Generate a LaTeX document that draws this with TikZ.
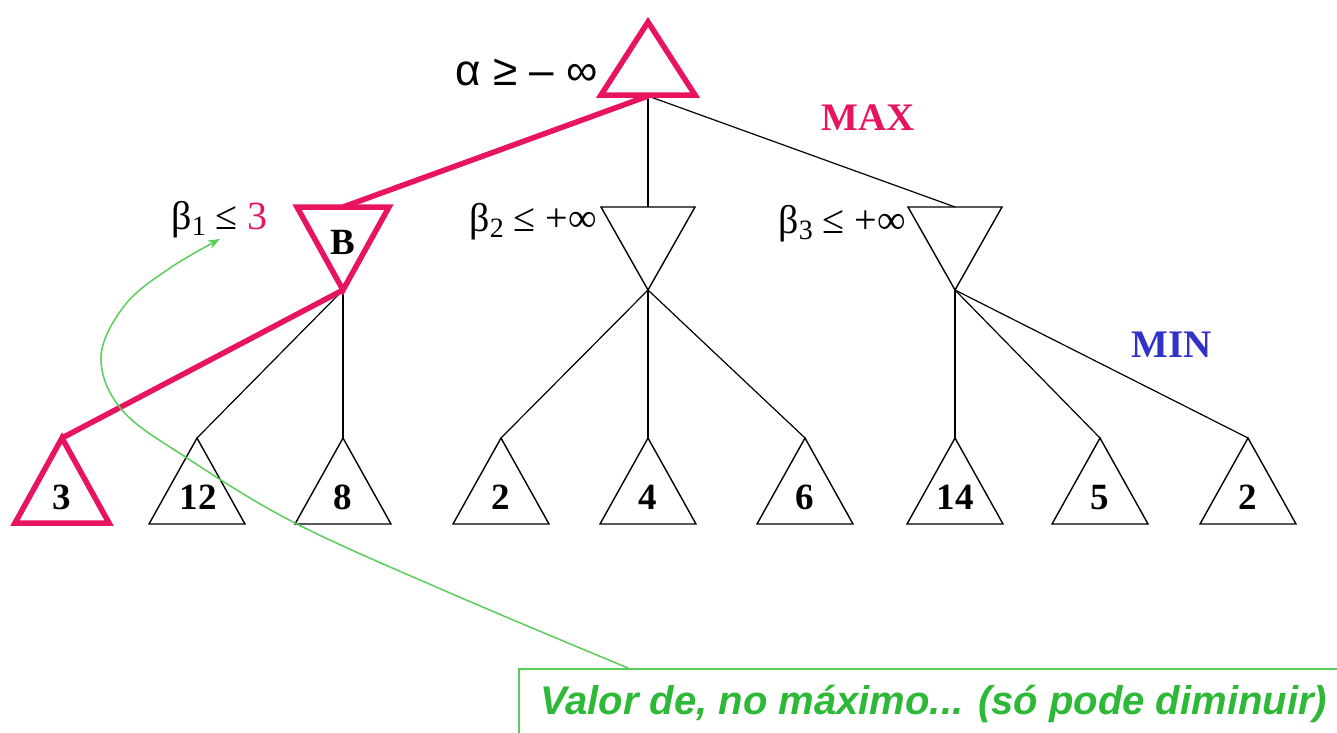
\documentclass[tikz,border=0pt]{standalone}
\usepackage{fontspec}
\setmainfont{Liberation Serif}
\newfontfamily\sansf{Liberation Sans}
\usetikzlibrary{arrows.meta}
\definecolor{pk}{RGB}{232,20,95}
\definecolor{mblue}{RGB}{50,50,200}
\definecolor{gtxt}{RGB}{45,185,55}
\definecolor{gline}{RGB}{90,205,90}
\newcommand{\mysub}[1]{\raisebox{-6pt}{\fontsize{28}{30}\selectfont #1}}
\begin{document}
\begin{tikzpicture}[x=1pt,y=-1pt,
  thinedge/.style={draw=black,line width=1.2pt},
  hotedge/.style={draw=pk,line width=5.5pt},
  tri/.style={draw=black,line width=1.4pt,line join=miter},
  hottri/.style={draw=pk,line width=5.5pt,line join=miter},
  leafnum/.style={font=\fontsize{37}{40}\selectfont\bfseries,anchor=base,inner sep=0pt},
  blabel/.style={font=\fontsize{40}{44}\selectfont,anchor=east,inner sep=0pt},
  levlabel/.style={font=\fontsize{39}{44}\selectfont\bfseries,inner sep=0pt}]
\useasboundingbox (0,0) rectangle (1337,732);
\clip (0,0) rectangle (1337,732);
% ---------- coordinates ----------
\coordinate (Rb) at (648,96);
\coordinate (Bt) at (343,207);  \coordinate (Ba) at (343,290);
\coordinate (Ct) at (648,207);  \coordinate (Ca) at (648,290);
\coordinate (Dt) at (955,207);  \coordinate (Da) at (955,290);
\foreach \n/\x in {1/62,2/197,3/343,4/501,5/648,6/805,7/955,8/1100,9/1248}
  {\coordinate (L\n) at (\x,438);}
% ---------- thin edges ----------
\draw[thinedge] (Rb) -- (Ct);
\draw[thinedge] (Rb) -- (Dt);
\draw[thinedge] (Ba) -- (L2);
\draw[thinedge] (Ba) -- (L3);
\draw[thinedge] (Ca) -- (L4);
\draw[thinedge] (Ca) -- (L5);
\draw[thinedge] (Ca) -- (L6);
\draw[thinedge] (Da) -- (L7);
\draw[thinedge] (Da) -- (L8);
\draw[thinedge] (Da) -- (L9);
% ---------- hot edges ----------
\draw[hotedge] (Rb) -- (Bt);
\draw[hotedge] (Ba) -- (L1);
% ---------- triangles ----------
\draw[hottri] (648,22) -- (601,95) -- (695,95) -- cycle;
\draw[hottri] (Ba) -- ++(-46,-83) -- ++(92,0) -- cycle;
\draw[tri] (Ca) -- ++(-47,-83) -- ++(94,0) -- cycle;
\draw[tri] (Da) -- ++(-47,-83) -- ++(94,0) -- cycle;
\draw[hottri] (L1) -- ++(-47,85) -- ++(94,0) -- cycle;
\foreach \n in {2,...,9}
  {\draw[tri] (L\n) -- ++(-48,86) -- ++(96,0) -- cycle;}
% ---------- texts ----------
\node[font=\fontsize{37}{40}\selectfont\bfseries,anchor=base,inner sep=0pt] (Blab) at (343,254) {B};
\foreach \n/\v/\x in {1/3/62,2/12/198,3/8/343,4/2/501,5/4/648,6/6/805,7/14/955,8/5/1100,9/2/1248}
  {\node[leafnum] (N\n) at (\x,509) {\v};}
\node[font=\sansf\fontsize{44}{48}\selectfont,anchor=east,inner sep=0pt] (alpha) at (598,72) {α ≥ – ∞};
\node[blabel] (b1) at (268,220) {β\mysub{1} ≤ \textcolor{pk}{3}};
\node[blabel] (b2) at (597,222) {β\mysub{2} ≤ +∞};
\node[blabel] (b3) at (906,224) {β\mysub{3} ≤ +∞};
\node[levlabel,text=pk] (max) at (868,118) {MAX};
\node[levlabel,text=mblue] (min) at (1172,345) {MIN};
% ---------- callout ----------
\node[draw=gline,line width=1.5pt,fill=white,anchor=north west,minimum width=860pt,minimum height=100pt,inner sep=0pt] (cal) at (518,668) {};
\node[font=\sansf\fontsize{40}{44}\selectfont\bfseries\itshape,text=gtxt,anchor=base west,inner sep=0pt] (caltext) at (540,714) {Valor de, no máximo... (só pode diminuir)};
\coordinate (ptr) at (628,668);
\coordinate (tip) at (220,239);
\draw[gline,line width=1.5pt,-{Stealth[length=12pt,width=9pt]}]
  plot[smooth,tension=0.6] coordinates {(ptr) (450,593) (295,523) (187,458) (122,410) (101,357) (125,305) (170,268) (tip)};
\end{tikzpicture}
\end{document}
